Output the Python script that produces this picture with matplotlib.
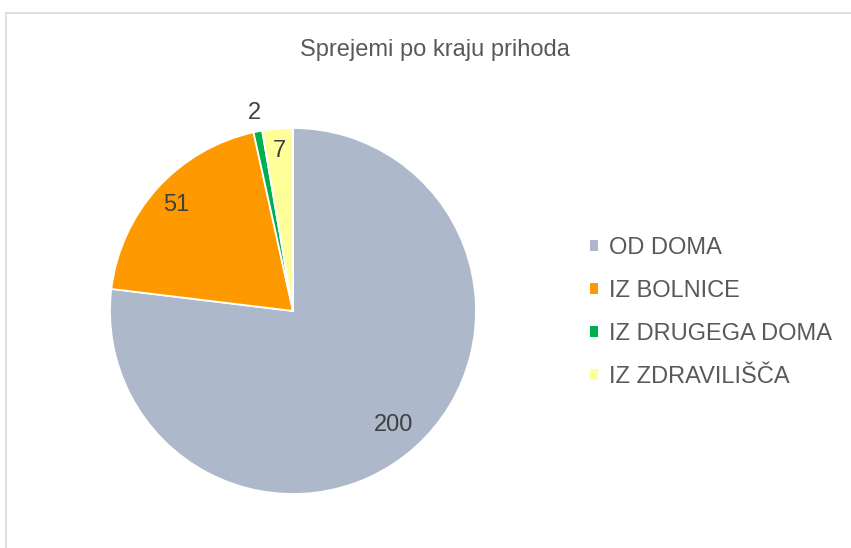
import numpy as np
import matplotlib.pyplot as plt
from matplotlib.patches import Patch, Rectangle

plt.rcParams['font.family'] = ['Liberation Sans', 'DejaVu Sans']

title = "Sprejemi po kraju prihoda"
categories = ["OD DOMA", "IZ BOLNICE", "IZ DRUGEGA DOMA", "IZ ZDRAVILIŠČA"]
values = [200, 51, 2, 7]
colors = ["#ADB9CA", "#FF9900", "#00B050", "#FFFF99"]
# how far out each number label sits (fraction of radius)
label_r = [0.83, 0.86, 1.10, 0.88]

W, H = 851, 548
fig = plt.figure(figsize=(W / 100, H / 100), dpi=100)

# light chart border (Excel chart area)
fig.patches.append(Rectangle((5.5 / W, -0.1), 2, 1.1 - 13.5 / H,
                             transform=fig.transFigure, fill=False,
                             edgecolor="#D9D9D9", lw=1.2))

cx, cy, r = 293, 311, 183
ax = fig.add_axes([(cx - r) / W, (H - cy - r) / H, 2 * r / W, 2 * r / H])
wedges, _ = ax.pie(values, colors=colors, startangle=90, counterclock=False,
                   wedgeprops=dict(edgecolor="white", linewidth=1.3))
ax.set_xlim(-1, 1)
ax.set_ylim(-1, 1)
ax.set_aspect("equal")
ax.axis("off")

for w, v, lr in zip(wedges, values, label_r):
    ang = np.deg2rad((w.theta1 + w.theta2) / 2)
    ax.text(lr * np.cos(ang), lr * np.sin(ang), str(v), ha="center", va="center",
            fontsize=17, color="#404040")

fig.text(435 / W, 1 - 50 / H, title, ha="center", va="center",
         fontsize=17, color="#595959")

handles = [Patch(facecolor=c, edgecolor="none") for c in colors]
fig.legend(handles, categories, loc="upper left",
           bbox_to_anchor=(590 / W, 1 - 237 / H), frameon=False,
           fontsize=17, labelcolor="#595959", handlelength=0.34,
           handleheight=0.34, handletextpad=0.45, labelspacing=0.89,
           borderpad=0, borderaxespad=0)

fig.savefig("out.png", dpi=100)
